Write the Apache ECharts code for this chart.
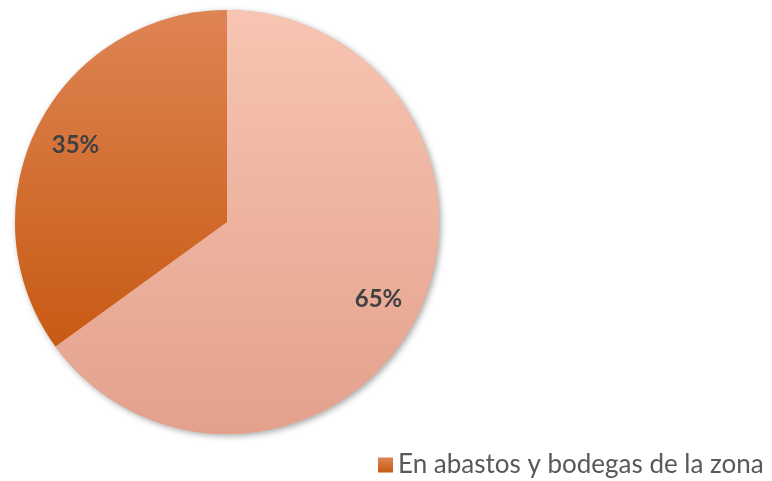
<!DOCTYPE html>
<html>
<head>
<meta charset="utf-8">
<script src="https://cdn.jsdelivr.net/npm/echarts@6/dist/echarts.min.js"></script>
<style>
  html, body { margin: 0; padding: 0; background: #fff; }
  #chart { width: 772px; height: 481px; }
</style>
</head>
<body>
<div id="chart"></div>
<script>
// datos del gráfico
var names = ['Otros', 'En abastos y bodegas de la zona']
var values = [65, 35]
var legendNames = ['En abastos y bodegas de la zona']

var topColors = ['#F7C5B2', '#DE8453']
var bottomColors = ['#E3A18C', '#C85A14']

var chart = echarts.init(document.getElementById('chart'))

var pieData = []
var labelData = []
var total = 0
names.forEach(function (n, i) {
  pieData.push({
    name: n,
    value: values[i],
    itemStyle: {
      color: new echarts.graphic.LinearGradient(0, 0, 0, 1, [
        { offset: 0, color: topColors[i] },
        { offset: 1, color: bottomColors[i] }
      ])
    }
  })
  labelData.push({ name: n, value: values[i] })
  total += values[i]
})

var option = {
  animation: false,
  legend: {
    data: legendNames,
    left: 373,
    top: 447,
    itemWidth: 15,
    itemHeight: 15,
    icon: 'rect',
    itemGap: 8,
    textStyle: {
      fontFamily: 'Lato',
      fontSize: 26,
      color: '#595959'
    }
  },
  series: [
    {
      // fondo con sombra (toda la torta)
      type: 'pie',
      z: 1,
      center: [227, 222],
      radius: [0, 212],
      silent: true,
      label: { show: false },
      labelLine: { show: false },
      itemStyle: {
        color: '#E8A890',
        shadowBlur: 6,
        shadowColor: 'rgba(0,0,0,0.35)',
        shadowOffsetX: 2,
        shadowOffsetY: 2
      },
      emphasis: { disabled: true },
      data: [{ name: 'fondo', value: total }]
    },
    {
      type: 'pie',
      z: 2,
      center: [227, 222],
      radius: [0, 212],
      startAngle: 90,
      clockwise: true,
      label: { show: false },
      labelLine: { show: false },
      emphasis: { disabled: true },
      data: pieData
    },
    {
      // serie transparente solo para colocar las etiquetas
      type: 'pie',
      z: 3,
      center: [227, 222],
      radius: [122, 212],
      startAngle: 90,
      clockwise: true,
      silent: true,
      itemStyle: { color: 'rgba(0,0,0,0)' },
      label: {
        show: true,
        position: 'inside',
        formatter: function (p) { return p.value + '%' },
        fontFamily: 'Lato',
        fontWeight: 'bold',
        fontSize: 24,
        color: '#404040'
      },
      labelLine: { show: false },
      emphasis: { disabled: true },
      data: labelData
    }
  ]
}

chart.setOption(option)
</script>
</body>
</html>
